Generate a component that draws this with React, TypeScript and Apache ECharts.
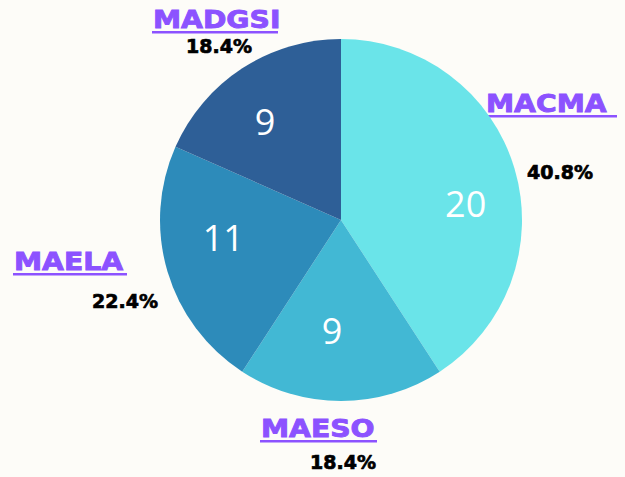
import React, { useEffect, useRef } from "react";
import * as echarts from "echarts";

const names = ["MACMA", "MAESO", "MAELA", "MADGSI"];
const values = [20, 9, 11, 9];
const colors = ["#6ae4e9", "#42b8d4", "#2d8bba", "#2e5f97"];

// layout (not data)
const innerOffsets = [[35, 10], [-9, 17], [-28, -9], [-25, -20]];
const nameLayout = [
  { x: 486, y: 103, ul: 132 },
  { x: 261, y: 428, ul: 117 },
  { x: 14, y: 261, ul: 114 },
  { x: 153, y: 19, ul: 126 },
];
const pctLayout = [
  { x: 527, y: 172 },
  { x: 310, y: 462 },
  { x: 92, y: 301 },
  { x: 186, y: 46 },
];

const PURPLE = "#8c52ff";
const BG = "#fdfcf8";

export default function App() {
  const ref = useRef<HTMLDivElement>(null);
  useEffect(() => {
    document.body.style.margin = "0";
    document.body.style.background = BG;
    const chart = echarts.init(ref.current!, null, { renderer: "svg" });
    const total = values.reduce((a, b) => a + b, 0);
    const graphics: any[] = [];
    names.forEach((n, i) => {
      const nl = nameLayout[i];
      graphics.push({
        type: "text",
        x: nl.x,
        y: nl.y,
        scaleX: 1.13,
        style: {
          text: n,
          fill: PURPLE,
          stroke: PURPLE,
          lineWidth: 0.9,
          font: "bold 25px 'DejaVu Sans'",
          align: "left",
          verticalAlign: "middle",
        },
      });
      graphics.push({
        type: "rect",
        shape: { x: nl.x - 1, y: nl.y + 12, width: nl.ul, height: 2.5 },
        style: { fill: PURPLE },
      });
      const pl = pctLayout[i];
      graphics.push({
        type: "text",
        x: pl.x,
        y: pl.y,
        style: {
          text: ((values[i] / total) * 100).toFixed(1) + "%",
          fill: "#000",
          stroke: "#000",
          lineWidth: 0.7,
          font: "bold 19px 'DejaVu Sans'",
          align: "left",
          verticalAlign: "middle",
        },
      });
    });
    chart.setOption({
      animation: false,
      backgroundColor: BG,
      graphic: graphics,
      series: [
        {
          type: "pie",
          center: [341, 220],
          radius: 181,
          startAngle: 90,
          clockwise: true,
          avoidLabelOverlap: false,
          labelLine: { show: false },
          label: {
            show: true,
            position: "inside",
            formatter: "{c}",
            color: "#ffffff",
            fontFamily: "'Open Sans'",
            fontWeight: 400,
            fontSize: 36,
          },
          emphasis: { disabled: true },
          data: names.map((n, i) => ({
            name: n,
            value: values[i],
            itemStyle: { color: colors[i] },
            label: { offset: innerOffsets[i] },
          })),
        },
      ],
    });
    return () => chart.dispose();
  }, []);
  return (
    <div
      ref={ref}
      style={{ position: "absolute", left: 0, top: 0, width: 625, height: 477 }}
    />
  );
}
